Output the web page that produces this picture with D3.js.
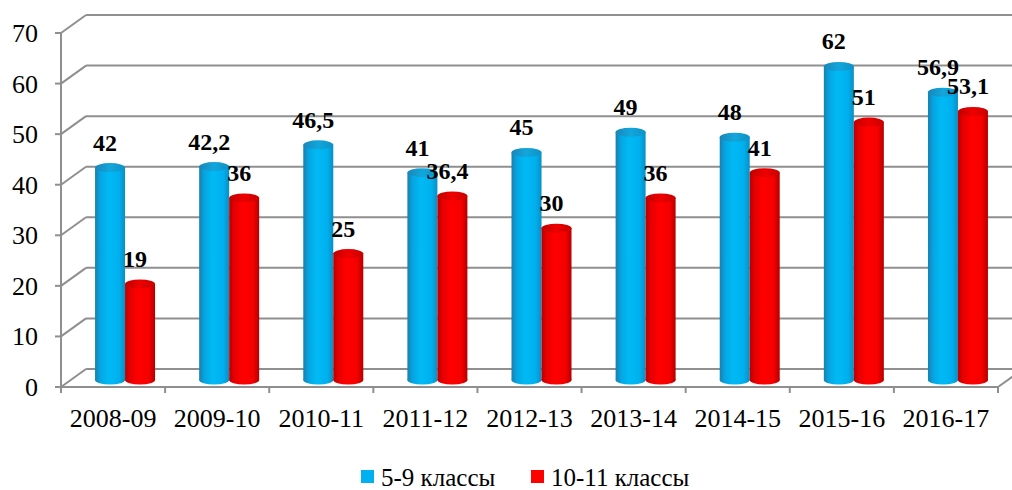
<!DOCTYPE html>
<html>
<head>
<meta charset="utf-8">
<script src="https://cdn.jsdelivr.net/npm/d3@7.9.0/dist/d3.min.js"></script>
<style>
  body { margin: 0; background: #fff; }
  svg { display: block; }
  svg text { font-family: "Times New Roman", Times, "Liberation Serif", Tinos, "Noto Serif", "DejaVu Serif", serif; }
</style>
</head>
<body>
<svg id="chart" width="1012" height="490"></svg>
<script>
// data
const years = ["2008-09", "2009-10", "2010-11", "2011-12", "2012-13", "2013-14", "2014-15", "2015-16", "2016-17"];
const grades59 = [42, 42.2, 46.5, 41, 45, 49, 48, 62, 56.9];
const grades1011 = [19, 36, 25, 36.4, 30, 36, 41, 51, 53.1];
const seriesNames = ["5-9 классы", "10-11 классы"];
const yTicks = [0, 10, 20, 30, 40, 50, 60, 70];

const svg = d3.select("#chart");
const W = 1012, H = 490;

// plot box (front plane) + 3d depth offsets
const plotLeft = 61, plotRight = 998, plotTop = 33, plotBottom = 387;
const depthX = 25, depthY = -18;   // back wall
const midX = 12, midY = -7;        // where the cylinders stand

const x0 = d3.scaleBand().domain(years).range([plotLeft, plotRight]);
const y = d3.scaleLinear().domain([0, 70]).range([plotBottom, plotTop]);

const barW = 30;
const x1 = d3.scaleBand().domain([0, 1]).range([0, barW * 2]);

const grid = "#8f8f8f";

// gradients
const defs = svg.append("defs");
function grad(id, stops) {
  const g = defs.append("linearGradient").attr("id", id)
    .attr("x1", "0%").attr("x2", "100%").attr("y1", "0%").attr("y2", "0%");
  stops.forEach(s => g.append("stop").attr("offset", s[0]).attr("stop-color", s[1]));
}
grad("blueBody", [["0%", "#1a7fae"], ["18%", "#05a6e2"], ["45%", "#00baf5"], ["80%", "#00b0ee"], ["100%", "#0a8ec4"]]);
grad("redBody", [["0%", "#b80000"], ["18%", "#e80000"], ["45%", "#ff0000"], ["80%", "#f50000"], ["100%", "#b30000"]]);
grad("blueTop", [["0%", "#1a86b8"], ["50%", "#12a6dc"], ["100%", "#0c92c6"]]);
grad("redTop", [["0%", "#c00000"], ["50%", "#ee0000"], ["100%", "#c80000"]]);
const colors = [
  { body: "url(#blueBody)", top: "url(#blueTop)", key: "#00b0f0" },
  { body: "url(#redBody)", top: "url(#redTop)", key: "#ff0000" }
];

// back wall gridlines + side diagonals
const gridG = svg.append("g").attr("stroke", grid).attr("stroke-width", 2).attr("fill", "none");
yTicks.forEach(t => {
  const yy = y(t);
  gridG.append("line").attr("x1", plotLeft + depthX).attr("x2", W + 5)
    .attr("y1", yy + depthY).attr("y2", yy + depthY);
  gridG.append("line").attr("x1", plotLeft).attr("y1", yy)
    .attr("x2", plotLeft + depthX).attr("y2", yy + depthY);
  gridG.append("line").attr("x1", plotLeft - 6).attr("x2", plotLeft).attr("y1", yy).attr("y2", yy);
});
// front axis, floor edge, right floor diagonal
gridG.append("line").attr("x1", plotLeft).attr("x2", plotLeft).attr("y1", y(70)).attr("y2", plotBottom);
gridG.append("line").attr("x1", plotLeft).attr("x2", plotRight).attr("y1", plotBottom).attr("y2", plotBottom);
gridG.append("line").attr("x1", plotRight).attr("y1", plotBottom)
  .attr("x2", plotRight + depthX).attr("y2", plotBottom + depthY);
// category ticks
d3.range(years.length + 1).forEach(i => {
  const xx = i < years.length ? x0(years[i]) : plotRight;
  gridG.append("line").attr("x1", xx).attr("x2", xx).attr("y1", plotBottom).attr("y2", plotBottom + 6);
});

// y labels
svg.append("g").selectAll("text").data(yTicks).join("text")
  .attr("x", 38).attr("y", d => y(d) + 9)
  .attr("text-anchor", "end").attr("font-size", 26).attr("fill", "#000")
  .text(d => d);

// x labels
svg.append("g").selectAll("text").data(years).join("text")
  .attr("x", d => x0(d) + x0.bandwidth() / 2).attr("y", 427)
  .attr("text-anchor", "middle").attr("font-size", 26).attr("fill", "#000")
  .text(d => d);

// cylinders
const rx = barW / 2, ry = 4.5;
const barsG = svg.append("g");
const labelsG = svg.append("g");
const fmt = v => String(v).replace(".", ",");

years.forEach((yr, i) => {
  [grades59[i], grades1011[i]].forEach((v, s) => {
    const cx = x0(yr) + (x0.bandwidth() - barW * 2) / 2 + x1(s) + rx + midX;
    const yTop = y(v) + midY;
    const yBot = y(0) + midY;
    const c = colors[s];
    barsG.append("ellipse").attr("cx", cx).attr("cy", yBot).attr("rx", rx).attr("ry", ry)
      .attr("fill", c.body);
    barsG.append("rect").attr("x", cx - rx).attr("y", yTop).attr("width", barW)
      .attr("height", yBot - yTop).attr("fill", c.body);
    barsG.append("ellipse").attr("cx", cx).attr("cy", yTop).attr("rx", rx).attr("ry", ry)
      .attr("fill", c.top);
    labelsG.append("text").attr("x", cx - 5).attr("y", yTop - 17)
      .attr("text-anchor", "middle").attr("font-size", 24).attr("font-weight", "bold")
      .attr("fill", "#000").text(fmt(v));
  });
});

// legend
const legend = svg.append("g");
const legendX = [361, 531];
seriesNames.forEach((name, s) => {
  legend.append("rect").attr("x", legendX[s]).attr("y", 470).attr("width", 13).attr("height", 13)
    .attr("fill", colors[s].key);
  legend.append("text").attr("x", legendX[s] + 20).attr("y", 486)
    .attr("font-size", 25).attr("fill", "#000").text(name);
});
</script>
</body>
</html>
